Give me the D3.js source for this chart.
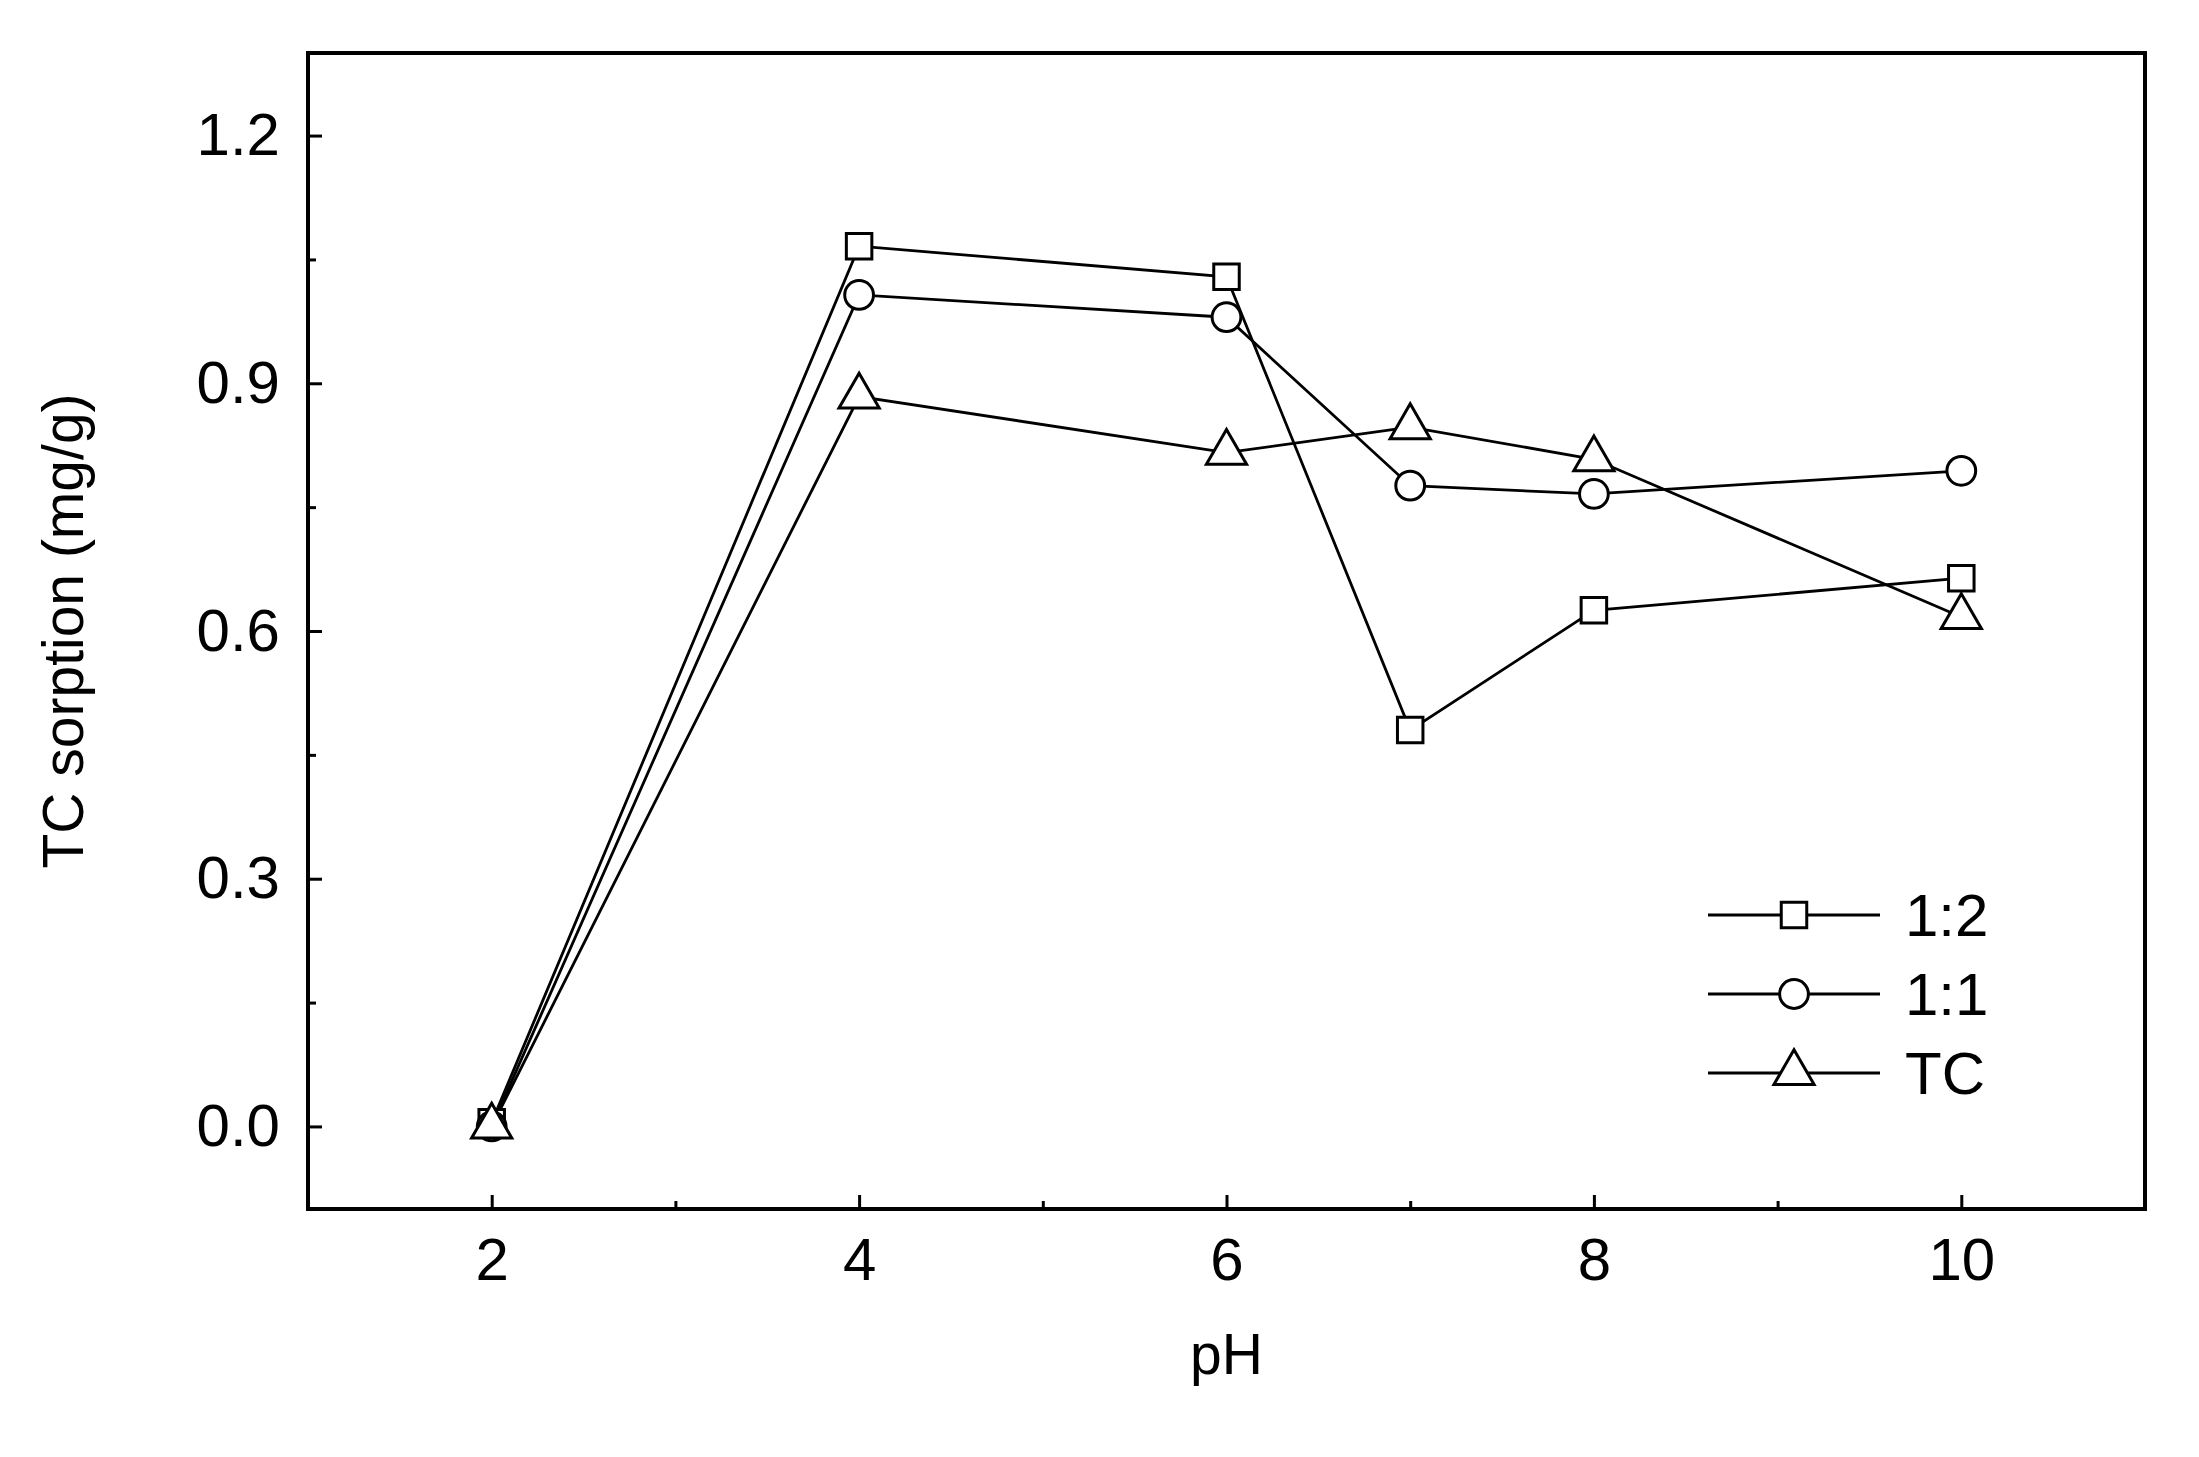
<!DOCTYPE html>
<html><head><meta charset="utf-8">
<script src="https://cdn.jsdelivr.net/npm/d3@7"></script>
<style>body{margin:0;background:#fff}svg text{font-family:"Liberation Sans",Arial,sans-serif}</style>
</head><body>
<script>
// data
const phValues = [2, 4, 6, 7, 8, 10];
const ratio12 = [0.005, 1.066, 1.029, 0.48, 0.625, 0.664];
const ratio11 = [0.0, 1.007, 0.98, 0.776, 0.766, 0.794];
const tcOnly = [0.0, 0.884, 0.816, 0.847, 0.808, 0.617];
const seriesNames = ["1:2", "1:1", "TC"];
const xTicks = [2, 4, 6, 8, 10];
const yTicks = [0.0, 0.3, 0.6, 0.9, 1.2];

const W = 2199, H = 1457;
const margin = {top: 53, right: W - 2145, bottom: H - 1209, left: 308};
const width = W - margin.left - margin.right;
const height = H - margin.top - margin.bottom;

const svg = d3.select("body").append("svg").attr("width", W).attr("height", H)
  .append("g").attr("transform", "translate(" + margin.left + "," + margin.top + ")");

const x = d3.scaleLinear().domain([1, 11]).range([0, width]);
const y = d3.scaleLinear().domain([-0.1, 1.3]).range([height, 0]);

// inward ticks
const tickLen = 14, minorLen = 8;
svg.append("g").attr("transform", "translate(0," + height + ")")
  .call(d3.axisBottom(x).tickValues(xTicks).tickSize(-tickLen).tickPadding(28).tickFormat(d3.format("d")));
svg.append("g").attr("transform", "translate(0," + height + ")")
  .call(d3.axisBottom(x).tickValues([3, 5, 7, 9]).tickSize(-minorLen).tickFormat(""));
svg.append("g")
  .call(d3.axisLeft(y).tickValues(yTicks).tickSize(-tickLen).tickPadding(28).tickFormat(d3.format(".1f")));
svg.append("g")
  .call(d3.axisLeft(y).tickValues([0.15, 0.45, 0.75, 1.05]).tickSize(-minorLen).tickFormat(""));
svg.selectAll(".domain").remove();
svg.selectAll(".tick line").attr("stroke", "#000").attr("stroke-width", 3);
svg.selectAll(".tick text").attr("font-size", 60).attr("fill", "#000");

svg.append("rect").attr("width", width).attr("height", height)
  .attr("fill", "none").attr("stroke", "#000").attr("stroke-width", 4);

svg.append("text").attr("x", width / 2).attr("y", height + 165).attr("text-anchor", "middle")
  .attr("font-size", 57).text("pH");
svg.append("text").attr("transform", "translate(-225," + (height / 2) + ") rotate(-90)")
  .attr("text-anchor", "middle").attr("font-size", 57).text("TC sorption (mg/g)");

const allSeries = [ratio12, ratio11, tcOnly];
const shapes = [d3.symbolSquare, d3.symbolCircle, d3.symbolTriangle];
const sizes = [650, 650, 700];
const line = d3.line().x((d, i) => x(phValues[i])).y(d => y(d));

allSeries.forEach((vals, s) => {
  svg.append("path").datum(vals).attr("d", line)
    .attr("fill", "none").attr("stroke", "#000").attr("stroke-width", 2.8);
});
allSeries.forEach((vals, s) => {
  svg.selectAll(".m" + s).data(vals).enter().append("path")
    .attr("transform", (d, i) => "translate(" + x(phValues[i]) + "," + y(d) + ")")
    .attr("d", d3.symbol().type(shapes[s]).size(sizes[s]))
    .attr("fill", "#fff").attr("stroke", "#000").attr("stroke-width", 3);
});

// legend
const lg = svg.append("g").attr("transform", "translate(" + (1708 - margin.left) + "," + (915 - margin.top) + ")");
seriesNames.forEach((name, i) => {
  const row = lg.append("g").attr("transform", "translate(0," + i * 79 + ")");
  row.append("line").attr("x1", 0).attr("x2", 172).attr("stroke", "#000").attr("stroke-width", 2.8);
  row.append("path").attr("transform", "translate(86,0)")
    .attr("d", d3.symbol().type(shapes[i]).size(sizes[i]))
    .attr("fill", "#fff").attr("stroke", "#000").attr("stroke-width", 3);
  row.append("text").attr("x", 197).attr("y", 21).attr("font-size", 60).text(name);
});
</script>
</body></html>
